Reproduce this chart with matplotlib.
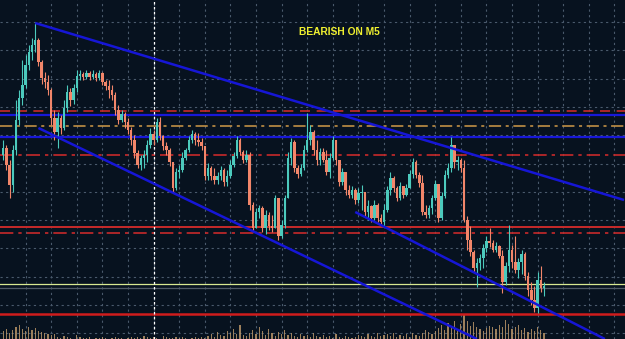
import numpy as np
import matplotlib
matplotlib.use("Agg")
import matplotlib.pyplot as plt

# -------------------------
# Candle data (M5 bars, price in chart points)
# -------------------------
first_open = 184

close = [191, 174, 154, 189, 219, 241, 254, 274, 287, 294,
         299, 277, 261, 257, 249, 221, 207, 221, 211, 231,
         247, 239, 251, 263, 265, 262, 266, 262, 265, 261,
         266, 257, 253, 249, 244, 229, 219, 225, 217, 209,
         199, 186, 174, 181, 184, 194, 205, 199, 217, 203,
         193, 189, 177, 151, 167, 169, 181, 189, 199, 205,
         199, 197, 193, 163, 171, 163, 159, 163, 169, 157,
         163, 174, 183, 199, 187, 179, 184, 134, 111, 127,
         131, 111, 124, 113, 111, 141, 103, 114, 141, 181,
         197, 171, 165, 171, 189, 199, 207, 189, 179, 187,
         179, 167, 181, 199, 179, 157, 167, 149, 144, 149,
         139, 146, 147, 127, 133, 121, 134, 121, 117, 129,
         149, 161, 151, 141, 153, 144, 151, 165, 177, 164,
         156, 127, 124, 131, 141, 155, 121, 143, 164, 171,
         194, 177, 179, 171, 119, 99, 87, 71, 76, 81,
         91, 98, 96, 89, 93, 83, 57, 73, 89, 77,
         69, 77, 85, 63, 49, 39, 31, 59, 51, 53]

high = [199, 194, 179, 194, 239, 249, 279, 284, 294, 301,
        316, 301, 279, 267, 264, 251, 229, 227, 224, 239,
        254, 251, 255, 269, 269, 267, 269, 268, 269, 267,
        269, 267, 259, 259, 254, 247, 234, 229, 227, 221,
        212, 204, 189, 184, 189, 199, 211, 209, 221, 222,
        204, 197, 191, 177, 171, 174, 187, 191, 203, 209,
        207, 206, 201, 193, 176, 173, 171, 167, 173, 171,
        169, 179, 187, 203, 201, 189, 189, 187, 137, 131,
        134, 133, 129, 127, 124, 144, 141, 119, 144, 187,
        201, 199, 174, 175, 194, 226, 214, 209, 199, 191,
        191, 189, 186, 203, 199, 179, 171, 167, 154, 153,
        151, 151, 154, 147, 139, 134, 139, 136, 125, 135,
        153, 167, 163, 153, 157, 153, 155, 169, 181, 179,
        167, 164, 134, 134, 144, 159, 155, 147, 169, 176,
        202, 194, 183, 181, 179, 123, 113, 89, 81, 85,
        95, 103, 111, 99, 97, 94, 89, 77, 114, 94,
        103, 81, 89, 87, 67, 57, 53, 67, 73, 57]

low = [179, 169, 141, 147, 184, 214, 234, 251, 269, 279,
       287, 273, 255, 251, 244, 214, 199, 191, 205, 209,
       227, 233, 235, 247, 259, 259, 260, 259, 260, 258,
       259, 254, 249, 241, 239, 224, 215, 217, 211, 205,
       194, 181, 171, 169, 171, 177, 191, 194, 197, 199,
       189, 184, 173, 147, 149, 161, 167, 179, 187, 196,
       194, 193, 189, 159, 159, 159, 155, 155, 159, 153,
       153, 161, 172, 181, 184, 176, 177, 129, 107, 111,
       121, 107, 105, 109, 107, 111, 99, 101, 111, 141,
       174, 167, 161, 163, 169, 187, 194, 184, 174, 174,
       177, 164, 161, 179, 174, 153, 154, 144, 141, 141,
       135, 136, 129, 123, 119, 117, 119, 117, 115, 112,
       127, 144, 147, 138, 139, 141, 143, 151, 161, 161,
       152, 124, 121, 121, 125, 139, 117, 119, 141, 161,
       167, 171, 169, 167, 117, 89, 83, 67, 52, 69,
       71, 87, 92, 87, 87, 81, 46, 54, 67, 71,
       66, 61, 65, 59, 43, 34, 27, 26, 47, 43]

volume = [8, 10, 6, 9, 12, 14, 10, 8, 12, 9, 11, 8, 7, 6, 5, 4, 5,
          2, 1, 3, 2, 1, 0, 4, 2, 1, 1, 2, 0, 1, 1, 2, 1, 0, 1, 2, 1, 1, 0, 1, 2,
          1, 2, 1, 3, 2, 1, 2, 1, 0, 3, 2, 1, 1, 2, 1, 2, 1, 0, 1, 2,
          1, 2, 1, 3, 5, 2, 7, 4, 3, 8, 6, 10, 5, 14, 4, 3, 6, 9, 5,
          12, 8, 4, 10, 6, 3, 7, 5, 9, 4, 6, 3, 2, 5, 3, 4, 2, 6, 3, 2, 4,
          2, 3, 1, 5, 2, 1, 3, 2, 1, 2, 4, 3, 2, 5, 3, 2, 6, 3, 4, 5,
          3, 6, 2, 4, 3, 5, 2, 6, 4, 3,
          6, 9, 7, 5, 8, 11, 14, 9, 16, 12, 18, 10, 15, 24, 18, 13, 17, 12, 10, 8,
          11, 13, 12, 10, 14, 12, 19, 15, 10, 12, 14, 9, 11, 7, 10, 8, 12, 9, 6]

# horizontal levels: (price, colour, style, width)
level_price = [228, 224, 213, 202.5, 184.5, 112, 106.5, 55.5, 51, 25]
level_color = ["#c82a2a", "#1818d8", "#d09a48", "#1818d8", "#c82a2a",
               "#c82a2a", "#c82a2a", "#d8e890", "#505a66", "#d01c1c"]
level_style = [(0, (6, 4)), "-", (0, (8, 3, 2, 3)), "-", (0, (8, 3, 2, 3)),
               "-", (0, (8, 3, 2, 3)), "-", "-", "-"]
level_width = [1.2, 1.6, 1.1, 1.6, 1.2, 1.4, 1.2, 0.9, 0.9, 1.8]

# trend lines: start bar, start price, end bar, end price
trend_x0 = [10, 11, 110]
trend_p0 = [316, 211, 127]
trend_x1 = [194, 148, 188]
trend_p1 = [139, 0, 0]

marker_bar = 47
title_text = "BEARISH ON M5"

# -------------------------
# Plot
# -------------------------
bg = "#07121f"
up_col = "#4ccabd"
dn_col = "#f2866a"

close = np.array(close)
opn = np.concatenate([[first_open], close[:-1]])
high = np.maximum(np.array(high), np.maximum(opn, close))
low = np.minimum(np.array(low), np.minimum(opn, close))
x = np.arange(len(close))

fig = plt.figure(figsize=(6.25, 3.39), dpi=100)
fig.patch.set_facecolor(bg)
ax = fig.add_axes([0, 0, 1, 1])
ax.set_facecolor(bg)

ax.set_xlim(-1, 194.3)
ax.set_ylim(0, 339)

ax.set_xticks(np.arange(7, 195, 8))
ax.set_yticks(317 - 28.3 * np.arange(12))
ax.grid(True, color="#4a5a6c", linestyle=(0, (2, 3)), linewidth=0.8)
ax.tick_params(left=False, bottom=False, labelleft=False, labelbottom=False)
for s in ax.spines.values():
    s.set_visible(False)
ax.set_axisbelow(True)

# volume
ax.bar(x, volume, width=0.4, bottom=0, color="#b89468", alpha=0.85, zorder=1)

# levels
for p, c, ls, lw in zip(level_price, level_color, level_style, level_width):
    ax.axhline(p, color=c, linestyle=ls, linewidth=lw, zorder=2)

ax.axvline(marker_bar, color="white", linestyle=(0, (2, 2)), linewidth=0.9, zorder=2)

# candles
cols = np.where(close >= opn, up_col, dn_col)
ax.vlines(x, low, high, colors=cols, linewidth=0.8, zorder=3)
body = np.abs(close - opn)
body = np.where(body < 1, 1, body)
ax.bar(x, body, bottom=np.minimum(opn, close), width=0.8, color=cols,
       linewidth=0, zorder=4)

# trend lines
for x0, p0, x1, p1 in zip(trend_x0, trend_p0, trend_x1, trend_p1):
    ax.plot([x0, x1], [p0, p1], color="#1616d6", linewidth=1.8, zorder=5,
            solid_capstyle="butt")

ax.text(104.9, 307, title_text, color="#f0f030", fontsize=7.4,
        fontweight="bold", family="Liberation Sans", ha="center", va="center",
        zorder=6)

fig.savefig("out.png", dpi=100, facecolor=bg)
